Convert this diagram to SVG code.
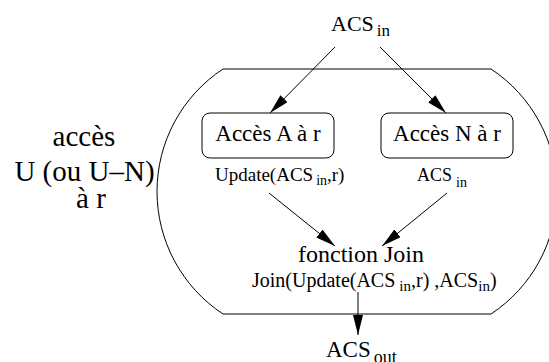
<svg xmlns="http://www.w3.org/2000/svg" width="549" height="362" viewBox="0 0 549 362">
<style>
text{font-family:'Liberation Serif','Times New Roman',Times,serif;fill:#000}
.big{font-size:29px}
.box{font-size:23px}
.lbl{font-size:19px}
.sub{font-size:14px}
.shape{fill:none;stroke:#000;stroke-width:1}
.conn line{stroke:#000;stroke-width:1;marker-end:url(#ah)}
</style>
<defs>
<marker id="ah" viewBox="0 0 20 10" refX="20" refY="5" markerWidth="20" markerHeight="10" orient="auto" markerUnits="userSpaceOnUse">
<path d="M0,0 L20,5 L0,10 z" fill="#000"/>
</marker>
</defs>
<rect width="549" height="362" fill="#fff"/>
<g id="boundary">
<path class="shape" d="M223,69 L491,69 A146.7,146.7 0 0 1 491,314 L223,314 A146.7,146.7 0 0 1 223,69 Z"/>
</g>
<g id="left-label">
<text class="big" x="84" y="146" text-anchor="middle">accès</text>
<text class="big" x="84.5" y="181" text-anchor="middle">U (ou U–N)</text>
<text class="big" x="91" y="208" text-anchor="middle">à r</text>
</g>
<g id="acs-in">
<text x="331" y="31" style="font-size:22px">ACS<tspan dx="3" dy="5" style="font-size:17px">in</tspan></text>
</g>
<g id="acces-a">
<rect class="shape" x="202" y="113" width="132" height="45" rx="8"/>
<text class="box" x="268" y="141" text-anchor="middle">Accès A à r</text>
<text class="lbl" x="215" y="181">Update(ACS<tspan class="sub" dx="3" dy="4">in</tspan><tspan dy="-4">,r)</tspan></text>
</g>
<g id="acces-n">
<rect class="shape" x="381" y="113" width="132" height="45" rx="8"/>
<text class="box" x="447" y="141" text-anchor="middle">Accès N à r</text>
<text class="lbl" x="417" y="181" style="font-size:18px">ACS<tspan class="sub" dx="4" dy="6">in</tspan></text>
</g>
<g id="join">
<text x="361" y="262" text-anchor="middle" style="font-size:24px">fonction Join</text>
<text x="252" y="287" style="font-size:20px">Join(Update(ACS<tspan class="sub" dx="4" dy="4" style="font-size:15px">in</tspan><tspan dy="-4">,r) ,ACS</tspan><tspan dy="4" style="font-size:15px">in</tspan><tspan dy="-4">)</tspan></text>
</g>
<g id="acs-out">
<text x="326" y="357" style="font-size:23px">ACS<tspan dx="3" dy="6" style="font-size:18px">out</tspan></text>
</g>
<g id="connectors" class="conn">
<line x1="335" y1="47" x2="270" y2="113"/>
<line x1="380" y1="47" x2="446" y2="113"/>
<line x1="269" y1="193" x2="335" y2="246"/>
<line x1="447" y1="193" x2="382" y2="246"/>
<line x1="358" y1="292" x2="358" y2="335"/>
</g>
</svg>
